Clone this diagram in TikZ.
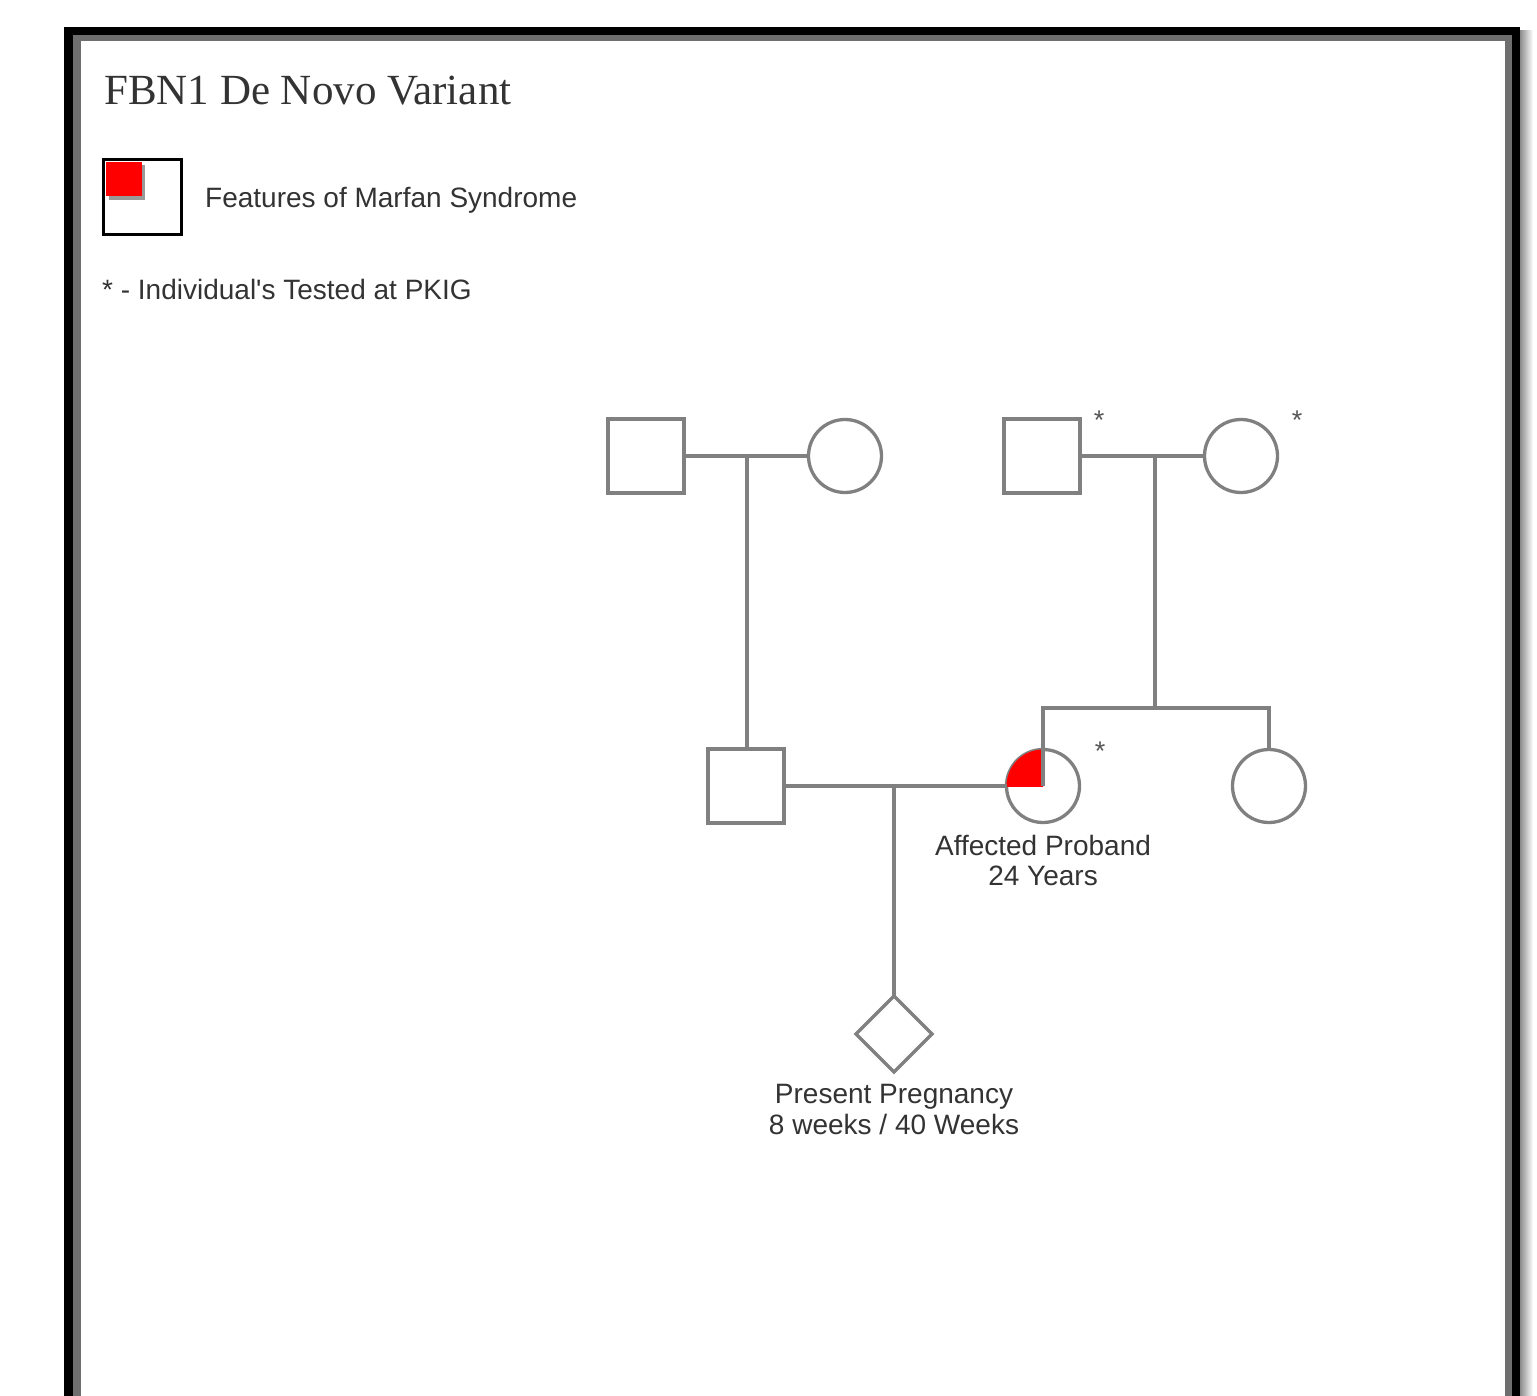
\documentclass[tikz,border=0pt]{standalone}
\usepackage{fontspec}
\setmainfont{Liberation Sans}[Ligatures=TeXOff]
\newfontfamily\ttlfont{Liberation Serif}
\usetikzlibrary{shapes.geometric}
\definecolor{pedgray}{HTML}{808080}
\definecolor{txt}{HTML}{333333}
\definecolor{stargray}{HTML}{555555}
\definecolor{framegray}{HTML}{6E6E6E}
\definecolor{affred}{HTML}{FF0000}
\begin{document}
\begin{tikzpicture}[x=1pt,y=-1pt,
  ped/.style={draw=pedgray, line width=3.3pt, fill=white, inner sep=0pt, outer sep=0pt},
  male/.style={ped, rectangle, minimum width=76pt, minimum height=74pt},
  female/.style={ped, circle, minimum size=73pt},
  preg/.style={ped, diamond, minimum size=76pt},
  pline/.style={draw=pedgray, line width=3.3pt},
  lbl/.style={text=txt, font=\fontsize{28}{32}\selectfont, inner sep=0pt, anchor=base},
  tested/.style={text=stargray, font=\fontsize{27}{30}\selectfont, inner sep=0pt, anchor=base}
]
\useasboundingbox (0,0) rectangle (1537,1396);
% frame
\shade[left color=black!45, right color=white] (1520,31) rectangle (1533,1396);
\fill[black] (64,27) rectangle (1520,1396);
\fill[framegray] (73,35) rectangle (1512,1396);
\fill[white] (81,41) rectangle (1505,1396);

% title
\node[text=txt, font=\ttlfont\fontsize{43}{50}\selectfont, inner sep=0pt, anchor=base west] (title) at (104,105) {FBN1 De Novo Variant};

% legend
\node[draw=black, line width=3pt, rectangle, minimum width=78pt, minimum height=75pt, inner sep=0pt] (legbox) at (142.5,197) {};
\fill[gray!80] (109,165) rectangle (145,200);
\fill[affred] (106,162) rectangle (142,196);
\node[lbl, anchor=base west] (legtxt) at (205,207.5) {Features of Marfan Syndrome};
\node[lbl, anchor=base west] (legstar) at (102,299.5) {* - Individual's Tested at PKIG};

% individuals
\node[male] (gf1) at (646,456) {};
\node[female] (gm1) at (845,456) {};
\node[male] (gf2) at (1042,456) {};
\node[female] (gm2) at (1241,456) {};
\node[male] (husb) at (746,786) {};
\node[female] (prob) at (1043,786) {};
\node[female] (sis) at (1269,786) {};
\node[preg] (preg) at (894,1034) {};

% affected quadrant
\begin{scope}
  \clip (prob.west) rectangle (prob.north);
  \fill[affred] (prob.center) circle (36.5);
\end{scope}

% connection points
\coordinate (mar1) at (747,456);
\coordinate (mar2) at (1155,456);
\coordinate (sib) at (1155,708);
\coordinate (mar3) at (894,786);

% lines
\draw[pline] (gf1.east) -- (gm1.west);
\draw[pline] (gf2.east) -- (gm2.west);
\draw[pline] (mar1) -- (mar1 |- husb.north);
\draw[pline] (mar2) -- (sib);
\draw[pline] (prob.center) -- (prob.center |- sib) -- (sis.north |- sib) -- (sis.north);
\draw[pline] (husb.east) -- (prob.west);
\draw[pline] (mar3) -- (preg.north);

% tested marks
\node[tested] (s1) at (1099,430) {*};
\node[tested] (s2) at (1297,430) {*};
\node[tested] (s3) at (1100,760) {*};

% labels
\node[lbl] (pl1) at (1043,855) {Affected Proband};
\node[lbl] (pl2) at (1043,885.5) {24 Years};
\node[lbl] (gl1) at (894,1103) {Present Pregnancy};
\node[lbl] (gl2) at (894,1134) {8 weeks / 40 Weeks};
\end{tikzpicture}
\end{document}
